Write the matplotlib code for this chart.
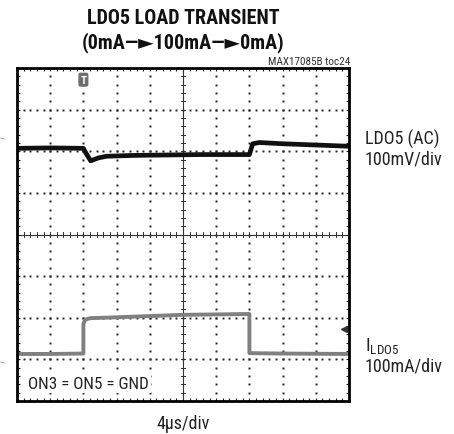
import numpy as np
import matplotlib
matplotlib.use("Agg")
import matplotlib.pyplot as plt
from matplotlib.lines import Line2D

plt.rcParams['font.family'] = ['Roboto Condensed', 'DejaVu Sans']

# scope screen: 10 x 8 divisions, time in div (4us/div)
n_xdiv, n_ydiv = 10, 8

# LDO5 (AC) trace, in divisions
ldo5_t = [0.0, 1.0, 2.0, 2.08, 2.22, 2.45, 2.7, 3.5, 4.5, 5.5, 6.5, 7.0, 7.1, 7.3, 8.0, 9.0, 10.0]
ldo5_v = [6.07, 6.08, 6.07, 5.95, 5.77, 5.84, 5.88, 5.90, 5.91, 5.92, 5.92, 5.92, 6.18, 6.21, 6.18, 6.15, 6.12]

# I_LDO5 trace, in divisions
iload_t = [0.0, 1.0, 2.0, 2.0, 2.05, 2.2, 2.6, 4.0, 5.0, 6.0, 7.0, 7.0, 8.0, 10.0]
iload_v = [1.13, 1.13, 1.14, 1.85, 1.95, 1.99, 2.0, 2.04, 2.07, 2.08, 2.09, 1.15, 1.14, 1.13]

fig = plt.figure(figsize=(4.54, 4.35), dpi=100)
ax = fig.add_axes([17 / 454, 33 / 435, 332 / 454, 333 / 435])
ax.set_xlim(0, n_xdiv)
ax.set_ylim(0, n_ydiv)

# dotted graticule
sub = np.arange(0, n_xdiv + 0.01, 0.2)
suby = np.arange(0, n_ydiv + 0.01, 0.2)
for gx in range(1, n_xdiv):
    if gx == 5:
        continue
    ax.plot(np.full_like(suby, gx), suby, ls='none', marker='s', ms=1.4, color='#222222', mew=0)
for gy in range(1, n_ydiv):
    if gy == 4:
        continue
    ax.plot(sub, np.full_like(sub, gy), ls='none', marker='s', ms=1.4, color='#222222', mew=0)

# center axes with cross ticks
ax.axvline(5, color='#333333', lw=0.8)
ax.axhline(4, color='#333333', lw=0.8)
for s in sub:
    ax.plot([s, s], [4 - 0.05, 4 + 0.05], color='#333333', lw=0.7)
for s in suby:
    ax.plot([5 - 0.06, 5 + 0.06], [s, s], color='#333333', lw=0.7)

# traces
ax.plot(ldo5_t, ldo5_v, color='#111111', lw=3.4, solid_joinstyle='round')
ax.plot(iload_t, iload_v, color='#808080', lw=2.8, solid_joinstyle='round')

# trigger and ground markers
ax.text(2.0, 7.72, 'T', ha='center', va='center', fontsize=8, color='white', fontweight='bold',
        bbox=dict(boxstyle='round,pad=0.18', fc='#6e6e6e', ec='none'))
ax.plot([9.85], [1.73], marker='<', ms=5, color='#333333')
ax.plot([9.85, 9.98], [1.73, 1.73], color='#333333', lw=1.2)

ax.set_xticks(range(0, n_xdiv + 1))
ax.set_yticks(range(0, n_ydiv + 1))
ax.set_xticks(sub, minor=True)
ax.set_yticks(suby, minor=True)
ax.tick_params(which='both', direction='in', top=True, right=True, length=2.5, width=0.8,
               labelbottom=False, labelleft=False, color='#222222')
for sp in ax.spines.values():
    sp.set_linewidth(2.0)
    sp.set_color('black')

ax.text(0.33, 0.42, 'ON3 = ON5 = GND', fontsize=12.3, va='center', ha='left', color='#222222',
        bbox=dict(boxstyle='square,pad=0.1', fc='white', ec='none'), zorder=5)

# labels around the screen
fig.text(183 / 454, 1 - 18 / 435, 'LDO5 LOAD TRANSIENT', ha='center', va='center',
         fontsize=14.5, fontweight='bold', color='#111111')
fig.text(183 / 454, 1 - 43 / 435, '(0mA\u2014\u25ba100mA\u2014\u25ba0mA)', ha='center', va='center',
         fontsize=14.5, fontweight='bold', color='#111111')
fig.text(350 / 454, 1 - 62 / 435, 'MAX17085B toc24', ha='right', va='center',
         fontsize=8, color='#333333')
fig.text(365 / 454, 1 - 139 / 435, 'LDO5 (AC)', ha='left', va='center', fontsize=13, color='#222222')
fig.text(365 / 454, 1 - 160 / 435, '100mV/div', ha='left', va='center', fontsize=13, color='#222222')
fig.text(365 / 454, 1 - 346 / 435, r'$\mathregular{I_{LDO5}}$', ha='left', va='center', fontsize=13.5,
         color='#222222')
fig.text(365 / 454, 1 - 367 / 435, '100mA/div', ha='left', va='center', fontsize=13, color='#222222')
fig.text(183 / 454, 1 - 424 / 435, '4\u03bcs/div', ha='center', va='center', fontsize=13, color='#222222')

# channel offset marks left of the screen
fig.add_artist(Line2D([1 / 454, 4 / 454], [1 - 139 / 435, 1 - 140 / 435], color='#aaaaaa', lw=0.8))
fig.add_artist(Line2D([1 / 454, 4 / 454], [1 - 363 / 435, 1 - 364 / 435], color='#aaaaaa', lw=0.8))

fig.savefig('out.png', dpi=100)
